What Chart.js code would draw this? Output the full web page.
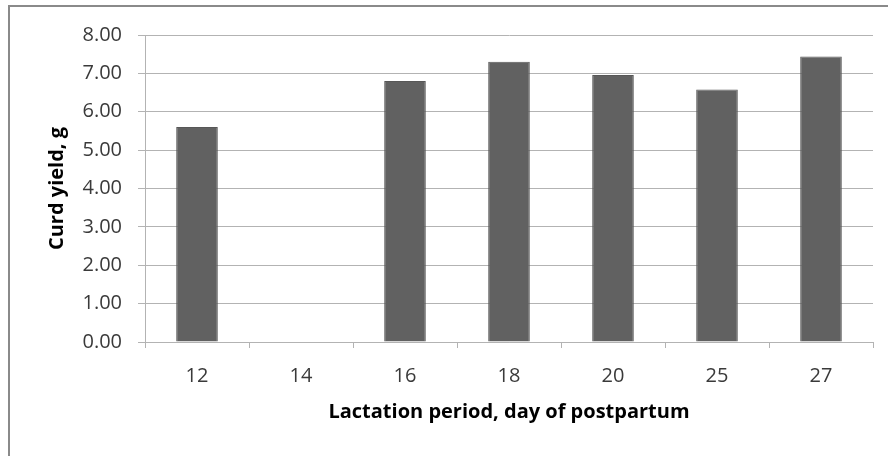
<!DOCTYPE html>
<html>
<head>
<meta charset="utf-8">
<title>Curd yield by lactation period</title>
<script src="https://cdn.jsdelivr.net/npm/chart.js@4/dist/chart.umd.min.js"></script>
<style>
  html, body { margin: 0; padding: 0; background: #fff; }
  #wrap { width: 888px; height: 456px; }
</style>
</head>
<body>
<div id="wrap"><canvas id="grafico" width="888" height="456"></canvas></div>
<script>
// datos
const dias = ['12', '14', '16', '18', '20', '25', '27'];
const rendimiento = [5.60, null, 6.80, 7.30, 6.96, 6.58, 7.44];
const yMin = 0, yMax = 8, yPaso = 1;

const colorGrid = '#b3b3b3';
const colorTexto = '#3a3a3a';

// marco gris alrededor del grafico (como en Excel)
const marco = {
    id: 'marco',
    beforeDraw(chart) {
        const c = chart.ctx;
        c.save();
        c.fillStyle = '#fff';
        c.fillRect(0, 0, chart.width, chart.height);
        c.strokeStyle = '#8a8a8a';
        c.lineWidth = 2;
        c.strokeRect(9, 6, chart.width + 20, chart.height + 20);
        c.restore();
    }
};

new Chart(document.getElementById('grafico'), {
    type: 'bar',
    data: {
        labels: dias,
        datasets: [{
            data: rendimiento,
            backgroundColor: '#616161',
            borderColor: '#575757',
            borderWidth: 1,
            categoryPercentage: 1,
            barPercentage: 0.4
        }]
    },
    plugins: [marco],
    options: {
        responsive: false,
        animation: false,
        layout: { padding: { top: 35, right: 15, bottom: 0, left: 0 } },
        plugins: { legend: { display: false }, tooltip: { enabled: false } },
        scales: {
            x: {
                grid: { drawOnChartArea: false, drawTicks: true, tickLength: 6, color: colorGrid },
                border: { color: colorGrid },
                ticks: { color: colorTexto, padding: 16, font: { family: 'Open Sans', size: 20 } },
                title: {
                    display: true,
                    text: 'Lactation period, day of postpartum',
                    color: '#000',
                    font: { family: 'Open Sans', size: 20, weight: 'bold' },
                    padding: { top: 0, bottom: 32 }
                },
                afterFit: s => { s.height = 456 - 342; }
            },
            y: {
                min: yMin,
                max: yMax,
                grid: { color: colorGrid, tickLength: 7 },
                border: { color: colorGrid },
                ticks: {
                    stepSize: yPaso,
                    color: colorTexto,
                    padding: 16,
                    font: { family: 'Open Sans', size: 20 },
                    callback: v => Number(v).toFixed(2)
                },
                title: {
                    display: true,
                    text: 'Curd yield, g',
                    color: '#000',
                    font: { family: 'Open Sans', size: 20, weight: 'bold' },
                    padding: { top: 45, bottom: 0 }
                },
                afterFit: s => { s.width = 145; }
            }
        }
    }
});
</script>
</body>
</html>
